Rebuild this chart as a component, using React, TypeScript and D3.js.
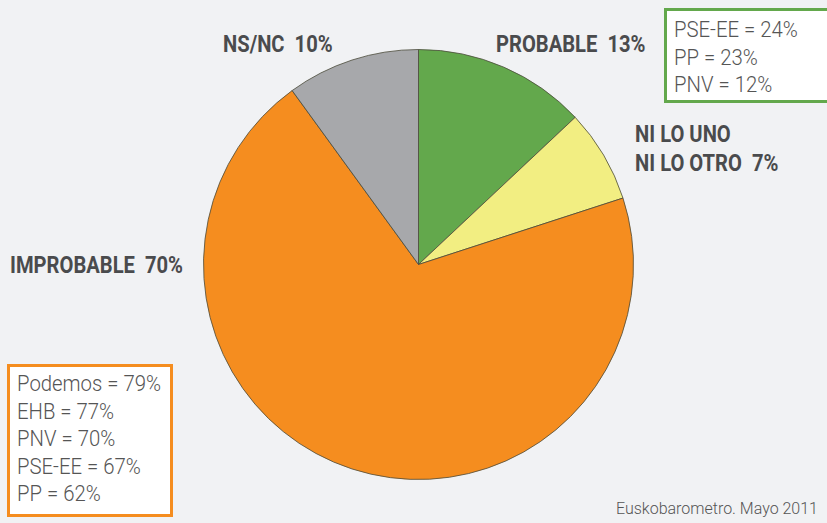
import React, { useEffect, useRef } from "react";
import * as d3 from "d3";

const categories = ["PROBABLE", "NI LO UNO NI LO OTRO", "IMPROBABLE", "NS/NC"];
const values = [13, 7, 70, 10];
const colors = ["#63a84c", "#f2ee82", "#f58d1f", "#a7a8ab"];

const probableParties = ["PSE-EE", "PP", "PNV"];
const probableValues = [24, 23, 12];
const improbableParties = ["Podemos", "EHB", "PNV", "PSE-EE", "PP"];
const improbableValues = [79, 77, 70, 67, 62];

const source = "Euskobarometro. Mayo 2011";

const W = 827;
const H = 523;

const App = () => {
  const ref = useRef<SVGSVGElement>(null);

  useEffect(() => {
    const svg = d3.select(ref.current);
    svg.selectAll("*").remove();

    svg.append("rect").attr("width", W).attr("height", H).attr("fill", "#f1f2f4");

    const cx = 418.5, cy = 264.5, r = 215;
    const pie = d3.pie<number>().sort(null).value((d) => d);
    const arc = d3.arc<d3.PieArcDatum<number>>().innerRadius(0).outerRadius(r);

    const g = svg.append("g").attr("transform", `translate(${cx},${cy})`);
    g.selectAll("path")
      .data(pie(values))
      .join("path")
      .attr("d", arc)
      .attr("fill", (_, i) => colors[i])
      .attr("stroke", "#4a4a3a")
      .attr("stroke-width", 0.8);

    const font = "Roboto, 'Liberation Sans', sans-serif";

    // condensed text: squeeze every string of a group by the same factor
    const addText = (s: string, x: number, y: number, size: number, weight: number, fill: string) =>
      svg.append("text")
        .attr("x", x).attr("y", y)
        .attr("font-family", font)
        .attr("font-size", size)
        .attr("font-weight", weight)
        .attr("fill", fill)
        .style("white-space", "pre")
        .text(s);
    const squeeze = (t: d3.Selection<SVGTextElement, unknown, null, undefined>, k: number) => {
      const n = (t.node() as SVGTextElement).getComputedTextLength();
      t.attr("textLength", n * k).attr("lengthAdjust", "spacingAndGlyphs");
    };

    // slice labels
    const labelSize = 23;
    const probe = addText(`${categories[2]}  ${values[2]}%`, 0, -100, labelSize, 700, "none");
    const kLabel = 173 / (probe.node() as SVGTextElement).getComputedTextLength();
    probe.remove();
    const labels = [
      { lines: [`${categories[0]}  ${values[0]}%`], x: 496, y: 52 },
      { lines: ["NI LO UNO", `NI LO OTRO  ${values[1]}%`], x: 635, y: 142 },
      { lines: [`${categories[2]}  ${values[2]}%`], x: 10, y: 273 },
      { lines: [`${categories[3]}  ${values[3]}%`], x: 223, y: 52 },
    ];
    labels.forEach((l) => {
      l.lines.forEach((s, j) => {
        squeeze(addText(s, l.x, l.y + j * 29, labelSize, 700, "#4a4b4d"), kLabel);
      });
    });

    // callout boxes
    const bodySize = 22;
    const probe2 = addText(`${improbableParties[0]} = ${improbableValues[0]}%`, 0, -100, bodySize, 300, "none");
    const kBody = 144 / (probe2.node() as SVGTextElement).getComputedTextLength();
    probe2.remove();

    const drawBox = (x: number, y: number, w: number, h: number, stroke: string,
      parties: string[], vals: number[], tx: number, ty: number, step: number) => {
      svg.append("rect")
        .attr("x", x).attr("y", y).attr("width", w).attr("height", h)
        .attr("fill", "#fff").attr("stroke", stroke).attr("stroke-width", 3);
      parties.forEach((p, i) => {
        squeeze(addText(`${p} = ${vals[i]}%`, tx, ty + i * step, bodySize, 300, "#555"), kBody);
      });
    };
    drawBox(665.5, 9.5, 170, 92, "#63a84c", probableParties, probableValues, 674, 37, 27.5);
    drawBox(8.5, 365.5, 163, 150, "#f58d1f", improbableParties, improbableValues, 17, 391, 27.5);

    // source note, kept whole inside the frame
    addText(source, 818, 514, 16, 300, "#555").attr("text-anchor", "end");
  }, []);

  return (
    <svg
      ref={ref}
      width={W}
      height={H}
      style={{ position: "absolute", left: 0, top: 0 }}
    />
  );
};

export default App;
